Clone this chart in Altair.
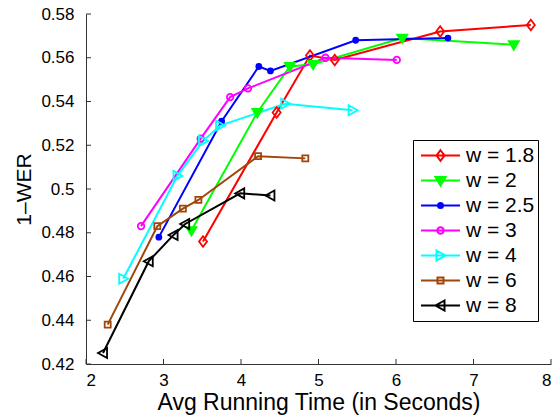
import altair as alt
import pandas as pd

# ---------------- data ----------------
series_names = ["w = 1.8", "w = 2", "w = 2.5", "w = 3", "w = 4", "w = 6", "w = 8"]

x_w18 = [3.51, 4.46, 4.89, 5.21, 6.57, 7.74]
y_w18 = [0.476, 0.535, 0.561, 0.559, 0.572, 0.575]
x_w2 = [3.36, 4.21, 4.63, 4.93, 6.08, 7.52]
y_w2 = [0.481, 0.535, 0.556, 0.557, 0.569, 0.566]
x_w25 = [2.94, 3.75, 4.23, 4.38, 5.48, 6.67]
y_w25 = [0.478, 0.531, 0.556, 0.554, 0.568, 0.569]
x_w3 = [2.71, 3.48, 3.86, 4.09, 5.09, 6.01]
y_w3 = [0.483, 0.523, 0.542, 0.546, 0.560, 0.559]
x_w4 = [2.48, 3.18, 3.51, 3.73, 4.57, 5.44]
y_w4 = [0.459, 0.506, 0.522, 0.529, 0.539, 0.536]
x_w6 = [2.28, 2.92, 3.25, 3.45, 4.22, 4.83]
y_w6 = [0.438, 0.483, 0.491, 0.495, 0.515, 0.514]
x_w8 = [2.22, 2.81, 3.13, 3.28, 3.99, 4.38]
y_w8 = [0.425, 0.467, 0.479, 0.484, 0.498, 0.497]

x_ticks = [2, 3, 4, 5, 6, 7, 8]
y_ticks = [0.42, 0.44, 0.46, 0.48, 0.50, 0.52, 0.54, 0.56, 0.58]

# ---------------- style ----------------
colors = ["#FF0000", "#00FF00", "#0000FF", "#FF00FF", "#00FFFF", "#A0460A", "#000000"]
fills = ["transparent", "#00FF00", "#0000FF", "transparent", "transparent", "transparent", "transparent"]

markers = [
    ("poly", [(0, -1.05), (0.8, 0), (0, 1.05), (-0.8, 0)]),   # diamond
    ("poly", [(-1, -0.7), (1, -0.7), (0, 1)]),                  # triangle down
    ("circ", 0.5),                                              # dot
    ("circ", 0.65),                                             # circle
    ("poly", [(-0.8, -1), (1, 0), (-0.8, 1)]),                  # triangle right
    ("poly", [(-0.6, -0.6), (0.6, -0.6), (0.6, 0.6), (-0.6, 0.6)]),  # square
    ("poly", [(0.8, -1), (-1, 0), (0.8, 1)]),                   # triangle left
]


def marker_path(m, k):
    kind, spec = m
    if kind == "poly":
        return "M" + "L".join(f"{x * k:.4f},{y * k:.4f}" for x, y in spec) + "Z"
    r = spec * k
    return f"M{-r:.4f},0A{r:.4f},{r:.4f} 0 1,0 {r:.4f},0A{r:.4f},{r:.4f} 0 1,0 {-r:.4f},0Z"


MAIN_SIZE = 100            # r = 5px per unit
LEG_SIZE = 1521            # sqrt = 39px symbol width
main_paths = [marker_path(m, 1.0) for m in markers]
leg_k = 5.0 / (LEG_SIZE ** 0.5 / 2)
leg_paths = ["M-1,0L1,0" + marker_path(m, leg_k) for m in markers]

xs = [x_w18, x_w2, x_w25, x_w3, x_w4, x_w6, x_w8]
ys = [y_w18, y_w2, y_w25, y_w3, y_w4, y_w6, y_w8]
rows = []
for name, xv, yv in zip(series_names, xs, ys):
    for i, (a, b) in enumerate(zip(xv, yv)):
        rows.append({"series": name, "t": a, "wer": b, "idx": i})
df = pd.DataFrame(rows)

W, H = 465, 350
FONT = "Liberation Sans"
AXIS_COLOR = "#333333"

xscale = alt.Scale(domain=[2, 8], nice=False, zero=False)
yscale = alt.Scale(domain=[0.42, 0.58], nice=False, zero=False)

xaxis = alt.Axis(values=x_ticks, ticks=False, grid=False, labelPadding=8,
                 title="Avg Running Time (in Seconds)", titleFontSize=23,
                 titlePadding=3, labelFontSize=17, format="d")
yaxis = alt.Axis(values=y_ticks, ticks=False, grid=False, labelPadding=12,
                 title="1\u2013WER", titleFontSize=21, titlePadding=6,
                 titleY=H / 2, titleAlign="center",
                 labelFontSize=17, format="~g")

X = alt.X("t:Q", scale=xscale, axis=xaxis)
Y = alt.Y("wer:Q", scale=yscale, axis=yaxis)

base = alt.Chart(df)

lines = base.mark_line(strokeWidth=2).encode(
    x=X, y=Y,
    color=alt.Color("series:N", scale=alt.Scale(domain=series_names, range=colors), legend=None),
    detail="series:N",
    order="idx:Q",
)

points = base.mark_point(strokeWidth=1.8, opacity=1, size=MAIN_SIZE).encode(
    x=X, y=Y,
    stroke=alt.Stroke("series:N", scale=alt.Scale(domain=series_names, range=colors), legend=None),
    fill=alt.Fill("series:N", scale=alt.Scale(domain=series_names, range=fills), legend=None),
    shape=alt.Shape("series:N", scale=alt.Scale(domain=series_names, range=main_paths), legend=None),
)

leg = alt.Legend(
    title=None, orient="none", legendX=327, legendY=126,
    strokeColor="black", fillColor="white", padding=3,
    symbolSize=LEG_SIZE, symbolStrokeWidth=2, symbolOpacity=1,
    clipHeight=25, rowPadding=0, labelFontSize=21, labelFont=FONT,
    labelColor="black", labelOffset=5, symbolOffset=4,
)

legend_layer = base.mark_point(strokeWidth=2, opacity=0, size=MAIN_SIZE).encode(
    x=X, y=Y,
    stroke=alt.Stroke("series:N", scale=alt.Scale(domain=series_names, range=colors), legend=leg),
    fill=alt.Fill("series:N", scale=alt.Scale(domain=series_names, range=fills), legend=leg),
    shape=alt.Shape("series:N", scale=alt.Scale(domain=series_names, range=leg_paths), legend=leg),
)

xt = alt.Chart(pd.DataFrame({"t": x_ticks})).mark_rule(color=AXIS_COLOR, strokeWidth=1).encode(
    x=X,
    y=alt.value(H), y2=alt.value(H - 5),
)
yt = alt.Chart(pd.DataFrame({"wer": y_ticks})).mark_rule(color=AXIS_COLOR, strokeWidth=1).encode(
    y=Y,
    x=alt.value(0), x2=alt.value(5),
)

chart = alt.layer(lines, points, legend_layer, xt, yt).resolve_scale(
    shape="independent", stroke="independent", fill="independent"
).properties(
    width=W, height=H,
    autosize=alt.AutoSizeParams(type="none"),
    padding={"left": 78, "top": 6, "right": 1, "bottom": 52},
).configure_view(stroke=None).configure_axis(
    domainColor=AXIS_COLOR, domainWidth=1, labelFont=FONT, titleFont=FONT,
    labelColor="black", titleColor="black", titleFontWeight="normal",
)

chart.save("out.html", embed_options={"renderer": "svg", "actions": False})
